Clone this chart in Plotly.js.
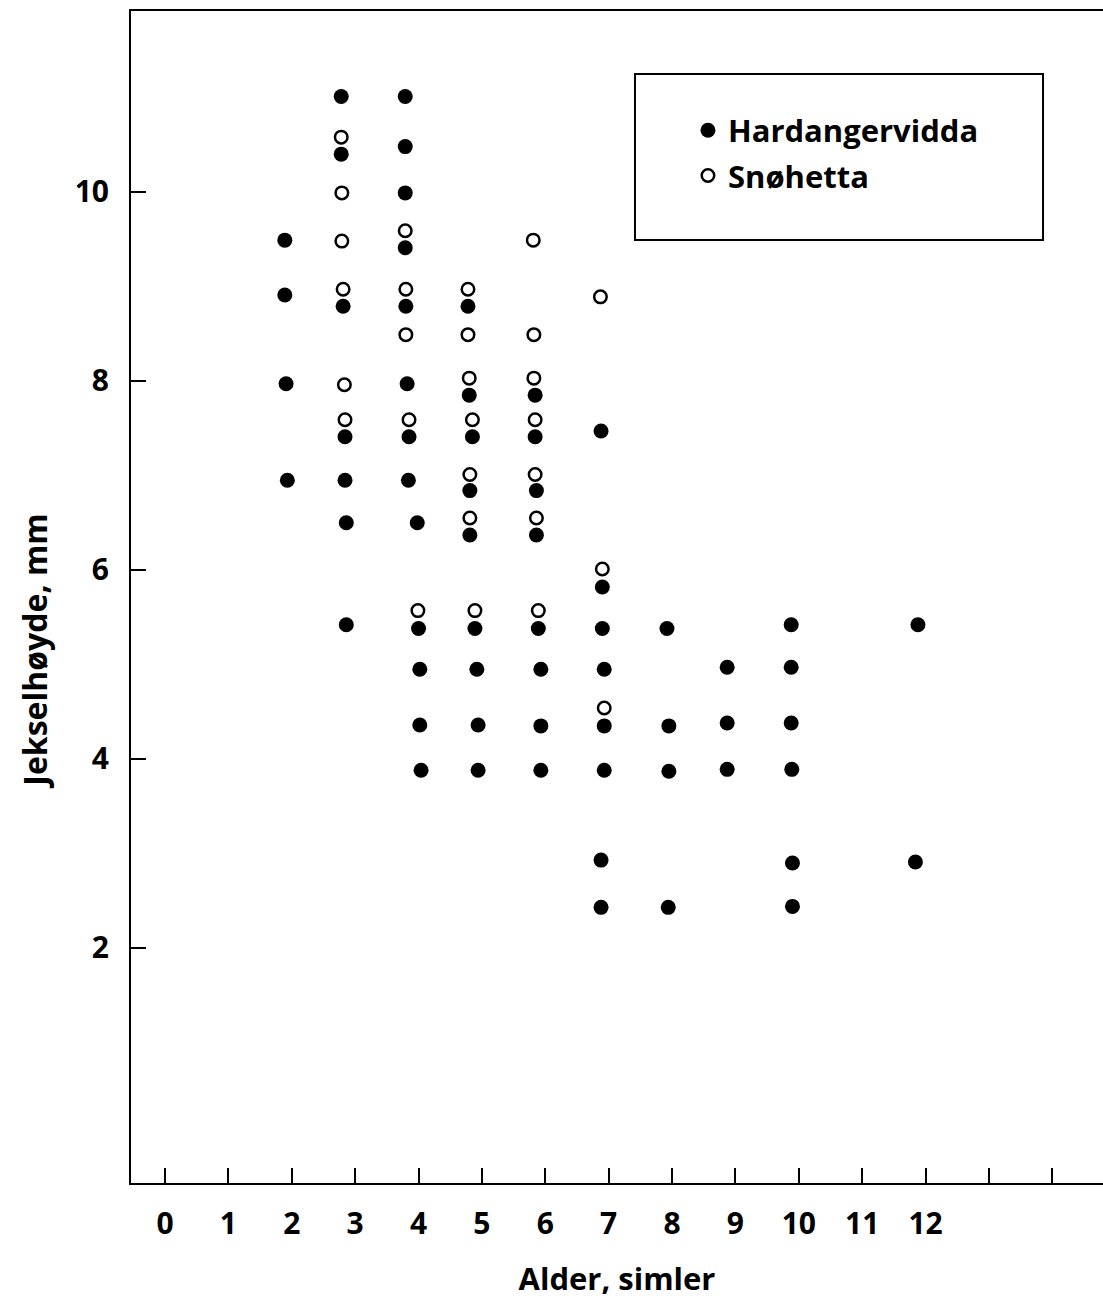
<!DOCTYPE html>
<html><head><meta charset="utf-8">
<script src="https://cdn.plot.ly/plotly-3.0.1.min.js"></script>
<style>html,body{margin:0;padding:0;background:#fff;}</style>
</head><body>
<div id="chart" style="width:1103px;height:1299px;"></div>
<script>
// Hardangervidda (filled circles): age (jittered) and molar height, mm
const hardX = [1.89,1.89,1.91,1.93,
  2.78,2.78,2.81,2.84,2.84,2.86,2.86,
  3.79,3.79,3.79,3.79,3.80,3.82,3.85,3.84,3.98,4.00,4.02,4.02,4.04,
  4.78,4.80,4.85,4.81,4.81,4.89,4.92,4.94,4.94,
  5.84,5.84,5.86,5.86,5.89,5.93,5.93,5.93,
  6.88,6.90,6.90,6.93,6.93,6.93,6.88,6.88,
  7.92,7.95,7.95,7.94,
  8.87,8.87,8.87,
  9.88,9.88,9.88,9.89,9.90,9.90,
  11.88,11.84];
const hardY = [9.49,8.91,7.97,6.95,
  11.01,10.40,8.79,7.41,6.95,6.50,5.42,
  11.01,10.48,9.99,9.41,8.79,7.97,7.41,6.95,6.50,5.38,4.95,4.36,3.88,
  8.79,7.85,7.41,6.84,6.37,5.38,4.95,4.36,3.88,
  7.85,7.41,6.84,6.37,5.38,4.95,4.35,3.88,
  7.47,5.82,5.38,4.95,4.35,3.88,2.93,2.43,
  5.38,4.35,3.87,2.43,
  4.97,4.38,3.89,
  5.42,4.97,4.38,3.89,2.90,2.44,
  5.42,2.91];
// Snøhetta (open circles)
const snoX = [2.78,2.79,2.79,2.81,2.83,2.84,
  3.79,3.80,3.80,3.85,3.99,
  4.78,4.78,4.80,4.85,4.81,4.81,4.89,
  5.81,5.82,5.82,5.84,5.84,5.86,5.89,
  6.87,6.90,6.93];
const snoY = [10.58,9.99,9.48,8.97,7.96,7.59,
  9.59,8.97,8.49,7.59,5.57,
  8.97,8.49,8.03,7.59,7.01,6.55,5.57,
  9.49,8.49,8.03,7.59,7.01,6.55,5.57,
  8.89,6.01,4.54];

const seriesNames = ['Hardangervidda', 'Snøhetta'];
const xTickVals = [0,1,2,3,4,5,6,7,8,9,10,11,12,13,14];
const xTickText = ['0','1','2','3','4','5','6','7','8','9','10','11','12','',''];
const yTickVals = [2,4,6,8,10];
const yTickText = ['2','4','6','8','10'];
const xTitle = 'Alder, simler';
const yTitle = 'Jekselhøyde, mm';

const FONT = 'Open Sans, Noto Sans, sans-serif';

const traces = [
  {type:'scatter', mode:'markers', name: seriesNames[0], x: hardX, y: hardY,
   legendgroup:'a',
   marker:{symbol:'circle', size:15, color:'#000', line:{width:0}}},
  {type:'scatter', mode:'markers', name: seriesNames[1], x: snoX, y: snoY,
   legendgroup:'b',
   marker:{symbol:'circle-open', size:12.5, color:'#000', line:{width:2.5, color:'#000'}}}
];

const layout = {
  width:1103, height:1299,
  margin:{l:131, r:0, t:11, b:116, pad:0},
  paper_bgcolor:'#fff', plot_bgcolor:'#fff',
  font:{family:FONT, size:30, color:'#000', weight:'bold'},
  showlegend:true,
  legend:{x:0.573, xanchor:'left', y:0.921, yanchor:'top',
    traceorder:'grouped', tracegroupgap:2,
    bgcolor:'rgba(0,0,0,0)', borderwidth:0,
    font:{family:FONT, size:31, color:'#000', weight:'bold'}},
  xaxis:{range:[-0.537, 14.80], showgrid:false, zeroline:false,
    showline:true, linecolor:'#000', linewidth:2, mirror:true,
    ticks:'inside', ticklen:15, tickwidth:2, tickcolor:'#000',
    tickmode:'array', tickvals:xTickVals, ticktext:xTickText,
    tickfont:{family:FONT, size:30, color:'#000', weight:'bold'},
    ticklabelstandoff:13,
    title:{text:xTitle, font:{family:FONT, size:31, color:'#000', weight:'bold'}, standoff:26}},
  yaxis:{range:[-0.487, 11.915], showgrid:false, zeroline:false,
    showline:true, linecolor:'#000', linewidth:2, mirror:false,
    ticks:'inside', ticklen:15, tickwidth:2, tickcolor:'#000',
    tickmode:'array', tickvals:yTickVals, ticktext:yTickText,
    tickfont:{family:FONT, size:30, color:'#000', weight:'bold'},
    ticklabelstandoff:14,
    title:{text:''}},
  shapes:[{type:'rect', xref:'paper', yref:'paper',
    x0:0.5185, x1:0.9383, y0:0.8046, y1:0.9463,
    line:{color:'#000', width:2}, fillcolor:'rgba(0,0,0,0)'}],
  annotations:[{text:yTitle, xref:'paper', yref:'paper', x:-0.099, y:0.454,
    xanchor:'center', yanchor:'middle', textangle:-90, showarrow:false,
    font:{family:FONT, size:32, color:'#000', weight:'bold'}}]
};

Plotly.newPlot('chart', traces, layout, {staticPlot:true, displayModeBar:false});
</script>
</body></html>
